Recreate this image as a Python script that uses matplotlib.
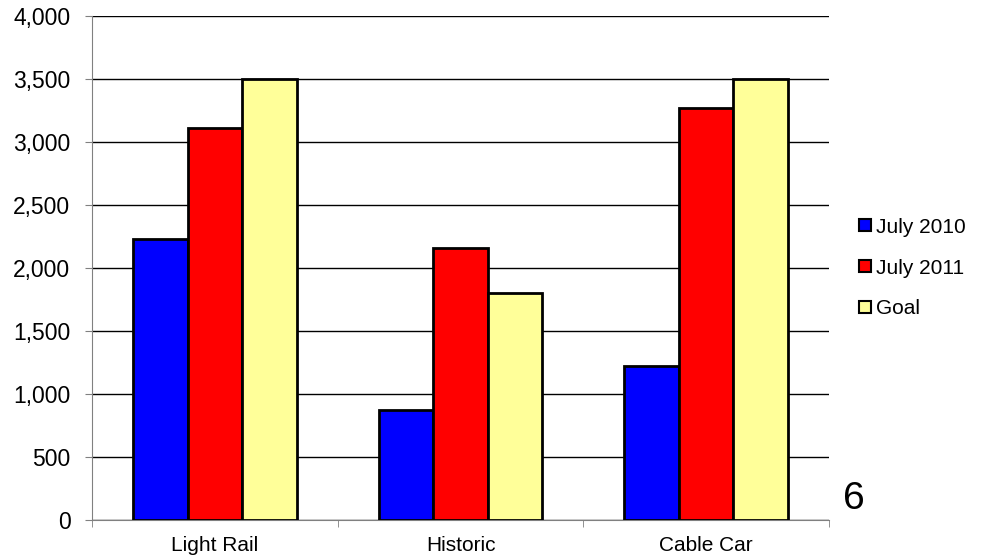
import matplotlib
matplotlib.use('Agg')
import matplotlib.pyplot as plt
import numpy as np

plt.rcParams['font.family'] = ['Liberation Sans', 'DejaVu Sans']

categories = ['Light Rail', 'Historic', 'Cable Car']
series_names = ['July 2010', 'July 2011', 'Goal']
july_2010 = [2230, 874, 1222]
july_2011 = [3108, 2158, 3273]
goal = [3500, 1803, 3500]
colors = ['#0000FF', '#FF0000', '#FFFF99']

fig = plt.figure(figsize=(9.84, 5.56), dpi=100)
ax = fig.add_axes([92 / 984, 1 - 520 / 556, (829 - 92) / 984, (520 - 16) / 556])

x = np.arange(len(categories))
w = 2 / 9
for k, (vals, name) in enumerate(zip([july_2010, july_2011, goal], series_names)):
    ax.bar(x + (k - 1) * w, vals, width=w, color=colors[k], edgecolor='black',
           linewidth=2, label=name, zorder=3)

ax.set_ylim(0, 4000)
ax.set_xlim(-0.5, len(categories) - 0.5)
ax.set_yticks(np.arange(0, 4001, 500))
ax.set_yticklabels([f'{v:,}' for v in range(0, 4001, 500)])
ax.yaxis.grid(True, color='black', linewidth=1)
ax.set_axisbelow(True)

ax.set_xticks(x)
ax.set_xticklabels(categories)
ax.set_xticks(np.arange(-0.5, len(categories)), minor=True)
ax.tick_params(axis='x', which='major', length=0, pad=11.5, labelsize=15)
ax.tick_params(axis='x', which='minor', length=5, color='#808080')
ax.tick_params(axis='y', length=5, color='#808080', labelsize=16.5, pad=10.5)

for s in ['top', 'right']:
    ax.spines[s].set_visible(False)
ax.spines['left'].set_color('#808080')
ax.spines['bottom'].set_color('#808080')

leg = ax.legend(loc='center left', bbox_to_anchor=(1.041, 0.5), frameon=False,
                handlelength=0.58, handleheight=0.53, handletextpad=0.24,
                labelspacing=1.05, fontsize=15, borderpad=0, borderaxespad=0)
for h in leg.legend_handles:
    h.set_linewidth(1.5)

fig.text(854 / 984, 1 - 499 / 556, '6', fontsize=28, ha='center', va='center')

fig.savefig('out.png', dpi=100)
